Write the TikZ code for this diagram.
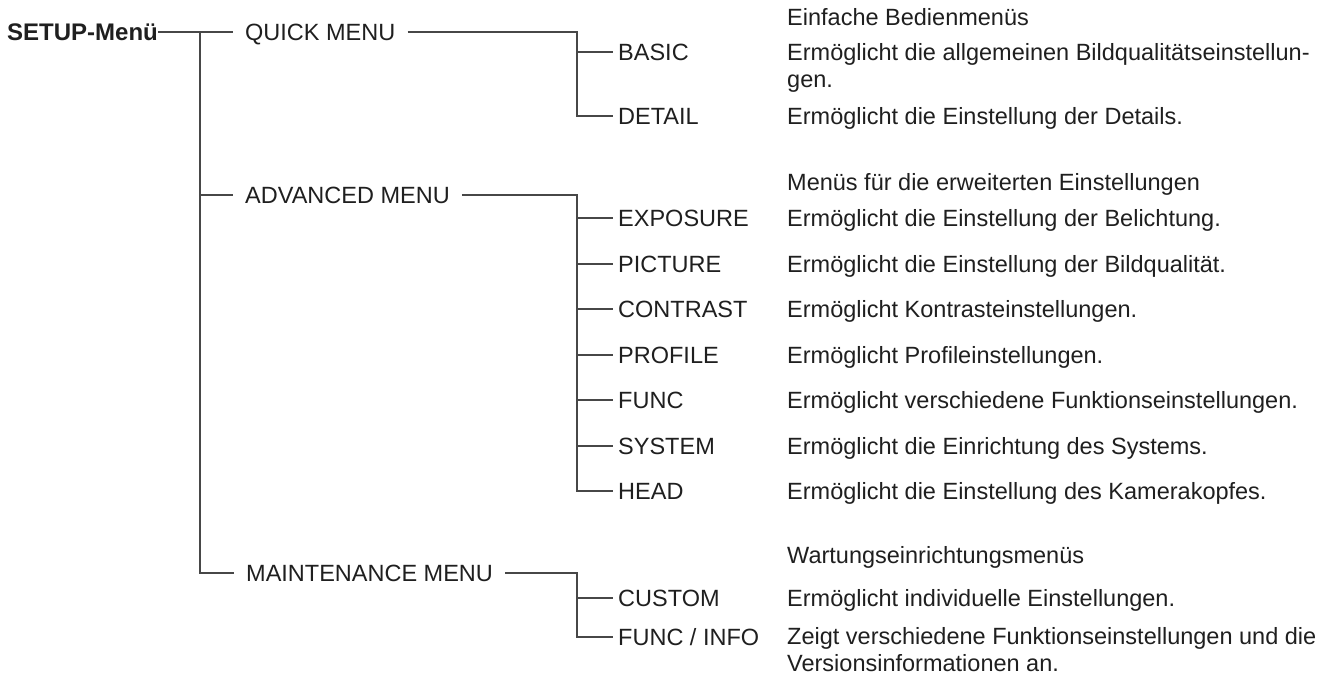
\documentclass[tikz,border=0pt]{standalone}
\usepackage{fontspec}
\setmainfont{Liberation Sans}
\usetikzlibrary{positioning,calc}
\tikzset{
  ast/.style={draw=black!72,line width=1.4pt},
  wurzel/.style={anchor=west,inner xsep=0pt,inner ysep=0pt,text height=17pt,text depth=0pt,font=\fontsize{24}{27}\selectfont\bfseries},
  menue/.style={anchor=west,inner xsep=12pt,inner ysep=0pt,text height=17pt,text depth=0pt},
  punkt/.style={anchor=west,inner xsep=5pt,inner ysep=0pt,text height=17pt,text depth=0pt},
  info/.style={anchor=base west,inner sep=0pt,align=left},
}

\begin{document}
\begin{tikzpicture}[x=1pt,y=-1pt,font=\fontsize{23.5}{26.5}\selectfont,text=black!88]
  \useasboundingbox (0,0) rectangle (1321,686);
  \coordinate (stamm) at (200,32);
  \coordinate (zweig) at (577,0);

  % Hauptmenue
  \node[wurzel] (setup) at (7,32) {SETUP-Menü};
  \node[menue] (quick) at (233,32) {QUICK MENU};
  \node[menue] (advanced) at (233,195) {ADVANCED MENU};
  \node[menue] (maint) at (234,573) {MAINTENANCE MENU};

  % Untermenues
  \node[punkt] (basic) at (613,52) {BASIC};
  \node[punkt] (detail) at (613,116) {DETAIL};
  \foreach \name/\txt/\y in {exposure/EXPOSURE/218,picture/PICTURE/264,
      contrast/CONTRAST/309,profile/PROFILE/355,func/FUNC/400,
      system/SYSTEM/446,head/HEAD/491}
    \node[punkt] (\name) at (613,\y) {\txt};
  \node[punkt] (custom) at (613,598) {CUSTOM};
  \node[punkt] (funcinfo) at (613,637) {FUNC / INFO};

  % Beschreibungen (Grundlinie der letzten Zeile)
  \node[info] (dquick) at (787,25) {Einfache Bedienmenüs};
  \node[info] (dbasic) at (787,87) {Ermöglicht die allgemeinen Bildqualitätseinstellun-\\gen.};
  \node[info] (ddetail) at (787,124) {Ermöglicht die Einstellung der Details.};
  \node[info] (dadvanced) at (787,190) {Menüs für die erweiterten Einstellungen};
  \node[info] (dexposure) at (787,226) {Ermöglicht die Einstellung der Belichtung.};
  \node[info] (dpicture) at (787,272) {Ermöglicht die Einstellung der Bildqualität.};
  \node[info] (dcontrast) at (787,317) {Ermöglicht Kontrasteinstellungen.};
  \node[info] (dprofile) at (787,363) {Ermöglicht Profileinstellungen.};
  \node[info] (dfunc) at (787,408) {Ermöglicht verschiedene Funktionseinstellungen.};
  \node[info] (dsystem) at (787,454) {Ermöglicht die Einrichtung des Systems.};
  \node[info] (dhead) at (787,499) {Ermöglicht die Einstellung des Kamerakopfes.};
  \node[info] (dmaint) at (787,563) {Wartungseinrichtungsmenüs};
  \node[info] (dcustom) at (787,606) {Ermöglicht individuelle Einstellungen.};
  \node[info] (dfuncinfo) at (787,671) {Zeigt verschiedene Funktionseinstellungen und die\\Versionsinformationen an.};

  % Linien
  \draw[ast] (setup.east) -- (quick.west);
  \draw[ast] (stamm) |- (advanced.west);
  \draw[ast] (stamm) |- (maint.west);

  \draw[ast] (quick.east) -| (zweig |- detail.west) -- (detail.west);
  \draw[ast] (zweig |- basic.west) -- (basic.west);

  \draw[ast] (advanced.east) -| (zweig |- head.west) -- (head.west);
  \foreach \name in {exposure,picture,contrast,profile,func,system}
    \draw[ast] (zweig |- \name.west) -- (\name.west);

  \draw[ast] (maint.east) -| (zweig |- funcinfo.west) -- (funcinfo.west);
  \draw[ast] (zweig |- custom.west) -- (custom.west);
\end{tikzpicture}
\end{document}
